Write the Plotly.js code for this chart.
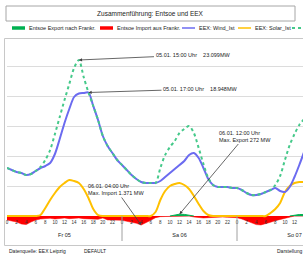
<!DOCTYPE html>
<html><head><meta charset="utf-8">
<script src="https://cdn.plot.ly/plotly-3.0.1.min.js"></script>
<style>html,body{margin:0;padding:0;overflow:hidden;background:#fff}#chart{width:303px;height:257px}</style>
</head><body><div id="chart"></div>
<script>
// ---- data (hours since 05.01. 00:00, values in MW) ----
const hours = [0,1,2,3,4,5,6,7,8,9,10,11,12,13,14,15,16,17,18,19,20,21,22,23,24,25,26,27,28,29,30,31,32,33,34,35,36,37,38,39,40,41,42,43,44,45,46,47,48,49,50,51,52,53,54,55,56,57,58,59,60,61,62];
const wind = [7248,6946,6644,6493,6191,6342,6795,7248,7550,8003,9362,11627,14043,16157,17969,18498,18573,18649,16610,14496,12080,10570,9513,8456,7701,6946,6191,5587,5134,4983,4983,4983,5285,5889,6493,7097,7701,8305,9211,9513,8758,7248,5587,4681,4379,4379,4379,4228,4228,3926,3473,3171,3171,3322,3624,3926,4228,3775,3624,4379,5889,7701,9664];
const windSolar = [7248,6946,6644,6493,6191,6342,6795,7399,8456,9966,12382,14949,17516,19932,22348,23556,20989,18649,16610,14496,12080,10570,9513,8456,7701,6946,6191,5587,5134,4983,4983,4983,7248,9211,10419,11325,12533,13137,13590,12533,10268,7852,5738,4681,4379,4379,4379,4228,4228,3926,3473,3171,3171,3322,3624,3926,4681,6040,8456,10721,12382,13741,14647];
const solar = [0,0,0,0,0,0,0,151,1208,2416,3473,4379,4983,5436,5285,4983,4077,2718,1057,151,0,0,0,0,0,0,0,0,0,0,0,604,2416,3775,4530,4832,4983,4681,4077,3020,1812,755,151,0,0,0,0,0,0,0,0,0,0,0,0,453,1057,1963,3624,4530,4983,5134,5134];
const importFR = [-604,-755,-906,-1208,-1300,-906,-604,-450,-400,-350,-450,-350,-300,-400,-350,-300,-400,-450,-400,-500,-300,-600,-600,-600,-650,-800,-950,-1100,-1371,-1050,-650,-250,-100,-80,-50,0,0,0,0,-150,-250,-300,-250,-200,-150,-150,-200,-200,-250,-450,-700,-1000,-1300,-1350,-1200,-950,-700,-500,-300,-150,0,0,0];
const exportFR = [null,null,null,null,null,null,null,null,null,null,null,null,null,null,null,null,null,null,null,null,null,null,null,null,null,null,null,null,null,null,null,null,null,null,0,100,272,240,120,0,null,null,null,null,null,null,null,null,null,null,null,null,null,null,null,null,null,null,null,0,150,220,220];
const hourTickVals = [0,2,4,6,8,10,12,14,16,18,20,22,24,26,28,30,32,34,36,38,40,42,44,46,48,50,52,54,56,58,60];
const hourTickText = ['0','2','4','6','8','10','12','14','16','18','20','22','0','2','4','6','8','10','12','14','16','18','20','22','0','2','4','6','8','10','12'];
const dayCenters = [12,36,60];
const dayLabels = ['Fr 05','Sa 06','So 07'];
const dayBounds = [24,48];
const seriesNames = ['Entsoe Export nach Frankr.','Entsoe Import aus Frankr.','EEX: Wind_Ist','EEX: Solar_Ist','EEX: Wind+Solar_Ist'];
const titleText = 'Zusammenführung: Entsoe und EEX';
const annDotText = '05.01. 15:00 Uhr\u00a0\u00a0\u00a0\u00a023.099MW';
const annWindText = '05.01. 17:00 Uhr\u00a0\u00a0\u00a0\u00a018.948MW';
const annExportText = '06.01. 12:00 Uhr<br>Max. Export 272 MW';
const annImportText = '06.01. 04:00 Uhr<br>Max. Import 1.371 MW';
const footLeft = 'Datenquelle: EEX Leipzig';
const footMid = 'DEFAULT';
const footRight = 'Darstellung';

// ---- geometry ----
const W=303,H=257,M={l:7,r:0,t:40,b:27};
const plotW=W-M.l-M.r, plotH=H-M.t-M.b;
const pxX = px => (px-M.l)/plotW;
const pyY = py => (H-M.b-py)/plotH;
const pxPerHour = 115/24;
const xRange=[0, plotW/pxPerHour];
const mwPerPx = 151, zeroPy = 216;
const yRange=[-(H-M.b-zeroPy)*mwPerPx, (zeroPy-M.t)*mwPerPx];
const hourAt = px => (px-M.l)/pxPerHour;
const mwAt = py => (zeroPy-py)*mwPerPx;
const FONT='Liberation Sans, Arial, sans-serif';
const colors=['#00B050','#FF0000','#6B6BF0','#FFC000','#45C98A'];

const traces=[
 {x:hours,y:importFR,name:seriesNames[1],mode:'lines',fill:'tozeroy',fillcolor:colors[1],line:{color:colors[1],width:0.5},showlegend:false,hoverinfo:'skip'},
 {x:hours,y:exportFR,name:seriesNames[0],mode:'lines',fill:'tozeroy',fillcolor:colors[0],line:{color:colors[0],width:1},showlegend:false,hoverinfo:'skip'},
 {x:hours,y:solar,name:seriesNames[3],mode:'lines',line:{color:colors[3],width:2,shape:'spline',smoothing:0.8},showlegend:false,hoverinfo:'skip'},
 {x:hours,y:wind,name:seriesNames[2],mode:'lines',line:{color:colors[2],width:2,shape:'spline',smoothing:0.8},showlegend:false,hoverinfo:'skip'},
 {x:hours,y:windSolar,name:seriesNames[4],mode:'lines',line:{color:colors[4],width:2,dash:'dot',shape:'spline',smoothing:0.8},showlegend:false,hoverinfo:'skip'},
 {x:dayCenters,y:[0,0,0],xaxis:'x2',mode:'lines',line:{width:0,color:'rgba(0,0,0,0)'},showlegend:false,hoverinfo:'skip'}
];

const shapes=[
 {type:'rect',xref:'paper',yref:'paper',x0:pxX(6),x1:pxX(295),y0:pyY(6),y1:pyY(21),line:{color:'#A6A6A6',width:1}},
 {type:'rect',xref:'paper',yref:'paper',x0:pxX(4.5),x1:pxX(320),y0:pyY(38.5),y1:pyY(245.5),line:{color:'#C8C8C8',width:1},layer:'below'}
];
dayBounds.forEach(d=>shapes.push({type:'line',xref:'x',yref:'paper',x0:d,x1:d,y0:pyY(zeroPy),y1:pyY(241),line:{color:'#A0A0A0',width:1}}));

const annotations=[];
// manual legend row (the last entry's label lies beyond the cropped right edge, only its line shows)
const legSw=[12,100,182,238,292];
const legWidth=[3.5,3.5,1.5,1.5,2];
[0,1,2,3,4].forEach((k,i)=>{
  shapes.push({type:'line',xref:'paper',yref:'paper',x0:pxX(legSw[i]),x1:pxX(legSw[i]+13),y0:pyY(28),y1:pyY(28),line:{color:colors[k],width:legWidth[i],dash:k===4?'dot':'solid'}});
  if(k<4) annotations.push({xref:'paper',yref:'paper',x:pxX(legSw[i]+15),y:pyY(28),xanchor:'left',yanchor:'middle',showarrow:false,text:seriesNames[k],font:{size:5.5,color:'#222',family:FONT}});
});

const iDot = windSolar.indexOf(Math.max(...windSolar));
const iWind = wind.indexOf(Math.max(...wind));
const iExp = exportFR.indexOf(Math.max(...exportFR.filter(v=>v!==null)));
const iImp = importFR.indexOf(Math.min(...importFR));
const arrow={showarrow:true,arrowhead:2,arrowsize:0.8,arrowwidth:0.8,arrowcolor:'#404040',standoff:0,axref:'x',ayref:'y',font:{size:5.5,color:'#222',family:FONT}};
annotations.push(Object.assign({},arrow,{x:hours[iDot],y:windSolar[iDot],ax:hourAt(192.5),ay:mwAt(55),text:annDotText}));
annotations.push(Object.assign({},arrow,{x:hours[iWind],y:wind[iWind],ax:hourAt(200),ay:mwAt(89),text:annWindText}));
annotations.push(Object.assign({},arrow,{x:hours[iExp],y:exportFR[iExp],ax:hourAt(245),ay:mwAt(136),text:annExportText,align:'left'}));
annotations.push(Object.assign({},arrow,{x:hours[iImp],y:importFR[iImp],ax:hourAt(116),ay:mwAt(189.5),text:annImportText,align:'left'}));
// footer
annotations.push({xref:'paper',yref:'paper',x:pxX(7),y:pyY(251),xanchor:'left',yanchor:'middle',showarrow:false,text:footLeft,font:{size:5,color:'#222',family:FONT}});
annotations.push({xref:'paper',yref:'paper',x:pxX(82),y:pyY(251),xanchor:'left',yanchor:'middle',showarrow:false,text:footMid,font:{size:5,color:'#222',family:FONT}});
annotations.push({xref:'paper',yref:'paper',x:pxX(275),y:pyY(251),xanchor:'left',yanchor:'middle',showarrow:false,text:footRight,font:{size:5,color:'#222',family:FONT}});

const layout={
 width:W,height:H,margin:M,paper_bgcolor:'#fff',plot_bgcolor:'#fff',showlegend:false,
 title:{text:titleText,x:150/W,xref:'container',y:1-13.5/H,yref:'container',xanchor:'center',yanchor:'middle',font:{size:6.5,color:'#222',family:FONT}},
 xaxis:{range:xRange,anchor:'free',position:pyY(zeroPy),showgrid:false,zeroline:false,showline:false,ticks:'',ticklabelstandoff:2,tickmode:'array',tickvals:hourTickVals,ticktext:hourTickText,tickfont:{size:4.5,color:'#333',family:FONT},tickangle:0},
 xaxis2:{range:xRange,overlaying:'x',anchor:'free',position:0,side:'bottom',showgrid:false,zeroline:false,showline:false,ticks:'',tickmode:'array',tickvals:dayCenters,ticktext:dayLabels,tickfont:{size:5.5,color:'#222',family:FONT}},
 yaxis:{range:yRange,dtick:4500,tick0:0,showticklabels:false,ticks:'',showgrid:true,gridcolor:'#DCDCDC',gridwidth:1,zeroline:false,showline:false},
 shapes:shapes,annotations:annotations
};
Plotly.newPlot('chart',traces,layout,{staticPlot:true,displayModeBar:false});
</script></body></html>
